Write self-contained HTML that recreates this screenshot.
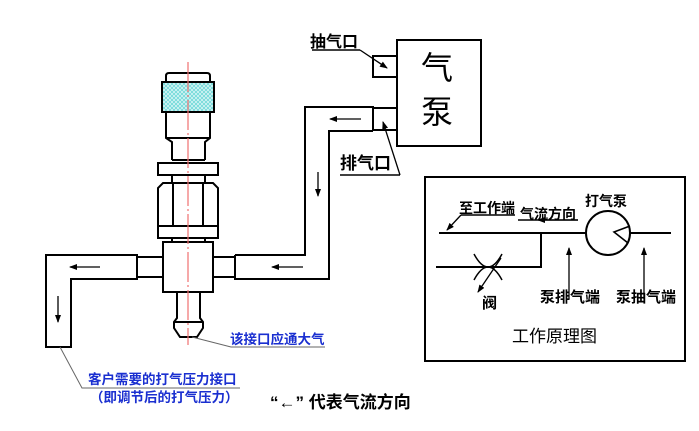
<!DOCTYPE html>
<html><head><meta charset="utf-8"><style>
html,body{margin:0;padding:0;background:#fff}
svg{display:block}
text{font-family:"Liberation Sans","Noto Sans CJK SC",sans-serif}
</style></head><body>
<svg width="699" height="431" viewBox="0 0 699 431" xmlns="http://www.w3.org/2000/svg">
<defs>
<pattern id="kn" width="4" height="4" patternUnits="userSpaceOnUse">
<rect width="4" height="4" fill="#d8f6f6"/>
<path d="M0 0L4 4M4 0L0 4" stroke="#6fd8d8" stroke-width="0.8"/>
</pattern>
<marker id="ah" markerWidth="8" markerHeight="6" refX="7" refY="3" orient="auto" markerUnits="userSpaceOnUse">
<path d="M0 0L8 3L0 6z" fill="#000"/>
</marker>
</defs>
<g fill="none" stroke="#000" stroke-width="2">
<path d="M166 82 V76 Q166 73 169 73 H207 Q210 73 210 76 V82"/>
<rect x="162" y="82" width="52" height="30" fill="url(#kn)"/>
<path d="M166 112 V138 L172 142 V160 M210 112 V138 L205 142 V160 M166 138 H210"/>
<path d="M172 160 H205"/>
<rect x="158" y="163" width="60" height="12"/>
<path d="M172 175 V183 M205 175 V183"/>
<path d="M163 183 H213 L218 188 V226 H158 V188 Z"/>
<path d="M173 183 V226 M203 183 V226"/>
<rect x="158" y="226" width="60" height="12"/>
<path d="M172 238 V242 M205 238 V242"/>
<rect x="163" y="242" width="50" height="50"/>
<path d="M177 292 V318 L174 322 V328 L180 337 H197 L203 328 V322 L200 318 V292 M174 322 H203"/>
<path d="M163 257 H137 M163 277 H137"/>
<path d="M137 255 H46 V347 H71 V279 H137 Z"/>
<path d="M213 257 H235 M213 277 H235"/>
<path d="M235 255 V279 H329 V131 H373 M235 255 H305 V107 H373 V131"/>
<rect x="373" y="108" width="24" height="22"/>
<rect x="397" y="40" width="84" height="106"/>
<rect x="373" y="56" width="24" height="21"/>
<rect x="425" y="177" width="260" height="184"/>
<path d="M439 233 H586 M630 233 H671 M541 233 V267 H436"/>
<circle cx="608" cy="233" r="22"/>
<path d="M630 226 L614 232 L628 243" stroke-width="1.6"/>
</g>
<path d="M188 62 V345" stroke="#f07070" stroke-width="1.2" stroke-dasharray="30 3 2 3"/>
<g stroke="#000" stroke-width="1.3" fill="none" marker-end="url(#ah)">
<path d="M100 267 H70"/>
<path d="M58 296 V322"/>
<path d="M303 267 H272"/>
<path d="M318 172 V196"/>
<path d="M361 119 H330"/>
<path d="M578 220 H538"/>
<path d="M569 299 V248"/>
<path d="M644 299 V248"/>
<path d="M501 258 L478 292"/>
<path d="M461 215 L447 230"/>
<path d="M360 50 L387 68"/>
<path d="M400 175 L383 122"/>
</g>
<g stroke="#000" stroke-width="1.5" fill="none">
<path d="M312 50 H360 M340 175 H400 M461 215 H515 M518 220 H578"/>
<path d="M474 254 Q488 280 502 254 M474 280 Q488 254 502 280"/>
</g>
<g stroke="#666" stroke-width="1" fill="none">
<path d="M192 337 L231 347 H325"/>
<path d="M60 347 L82 388 H240"/>
</g>
<g font-weight="bold" fill="#000">
<text x="310" y="47" font-size="16">抽气口</text>
<text x="340" y="169" font-size="17">排气口</text>
<text x="459" y="213" font-size="14">至工作端</text>
<text x="520" y="219" font-size="14">气流方向</text>
<text x="585" y="206" font-size="14">打气泵</text>
<text x="482" y="308" font-size="15">阀</text>
<text x="540" y="302" font-size="15">泵排气端</text>
<text x="616" y="302" font-size="15">泵抽气端</text>
</g>
<text x="512" y="342" font-size="17" fill="#000">工作原理图</text>
<text x="421" y="79" font-size="32" fill="#000">气</text>
<text x="421" y="123" font-size="32" fill="#000">泵</text>
<g font-size="13.5" font-weight="bold" fill="#1a2fd0">
<text x="230" y="344">该接口应通大气</text>
<text x="88" y="384">客户需要的打气压力接口</text>
<text x="90" y="402">（即调节后的打气压力）</text>
</g>
<text x="270" y="408" font-size="17" font-weight="bold" fill="#000">“←” 代表气流方向</text>
</svg>
</body></html>
